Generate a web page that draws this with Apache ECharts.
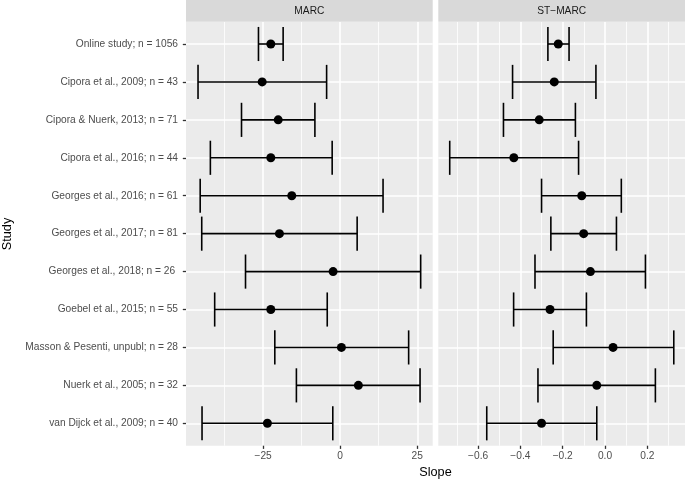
<!DOCTYPE html>
<html><head><meta charset="utf-8">
<script src="https://cdn.jsdelivr.net/npm/echarts@6/dist/echarts.min.js"></script>
<style>html,body{margin:0;padding:0;background:#fff}#c{width:685px;height:479px}</style>
</head><body><div id="c"></div>
<script>
const studies = [
  'Online study; n = 1056',
  'Cipora et al., 2009; n = 43',
  'Cipora & Nuerk, 2013; n = 71',
  'Cipora et al., 2016; n = 44',
  'Georges et al., 2016; n = 61',
  'Georges et al., 2017; n = 81',
  'Georges et al., 2018; n = 26 ',
  'Goebel et al., 2015; n = 55',
  'Masson & Pesenti, unpubl; n = 28',
  'Nuerk et al., 2005; n = 32',
  'van Dijck et al., 2009; n = 40'
];
const marcEst  = [-22.5, -25.3, -20.1, -22.5, -15.7, -19.7, -2.3, -22.5, 0.4, 5.9, -23.6];
const marcLow  = [-26.5, -46.1, -32.0, -42.1, -45.4, -44.9, -30.7, -40.7, -21.2, -14.2, -44.8];
const marcHigh = [-18.5, -4.4, -8.2, -2.6, 13.9, 5.5, 26.1, -4.2, 22.2, 25.9, -2.4];
const stEst  = [-0.221, -0.240, -0.311, -0.431, -0.110, -0.101, -0.069, -0.260, 0.038, -0.039, -0.300];
const stLow  = [-0.270, -0.437, -0.480, -0.734, -0.300, -0.256, -0.331, -0.432, -0.245, -0.317, -0.559];
const stHigh = [-0.170, -0.043, -0.140, -0.125, 0.077, 0.054, 0.191, -0.088, 0.325, 0.238, -0.039];
const marcTicks = [-25, 0, 25];
const stTicks = [-0.6, -0.4, -0.2, 0, 0.2];
const panelTitles = ['MARC', 'ST\u2212MARC'];
const xTitle = 'Slope';
const yTitle = 'Study';

const FONT = '"Liberation Sans", Arial, Helvetica, sans-serif';
const minus = s => s.replace('-', '\u2212');

const PW = 246.7;
const panels = [{left: 186}, {left: 438.3}];
const panelTop = 22, panelBottom = 479 - 445.7, panelH = 445.7 - 22;
const rowTop = 44, rowBottom = 479 - 423.3;

function renderErr(params, api) {
  const i = api.value(2);
  const lo = api.coord([api.value(0), i]);
  const hi = api.coord([api.value(1), i]);
  const h = api.size([0, 1])[1] * 0.45;
  const st = {stroke: '#000', lineWidth: 1.6, fill: null};
  return {type: 'group', children: [
    {type: 'line', shape: {x1: lo[0], y1: lo[1], x2: hi[0], y2: hi[1]}, style: st},
    {type: 'line', shape: {x1: lo[0], y1: lo[1] - h, x2: lo[0], y2: lo[1] + h}, style: st},
    {type: 'line', shape: {x1: hi[0], y1: hi[1] - h, x2: hi[0], y2: hi[1] + h}, style: st}
  ]};
}

const labelStyle = {color: '#4D4D4D', fontSize: 10.2, fontFamily: FONT};
const tickStyle = {color: '#333333', width: 1.3};
const major = {color: '#FFFFFF', width: 1.6};
const minor = {color: '#FFFFFF', width: 0.8};

function bgX(grid, min, max, interval, ticks, fmt) {
  const ax = {
    gridIndex: grid, type: 'value', min: min, max: max,
    axisLine: {show: false, onZero: false},
    axisTick: {show: true, customValues: ticks, length: 3.2, lineStyle: tickStyle},
    axisLabel: Object.assign({customValues: ticks, formatter: fmt, margin: 5}, labelStyle),
    splitLine: {show: true, lineStyle: major},
    minorTick: {show: false, splitNumber: 2},
    minorSplitLine: {show: true, lineStyle: minor}
  };
  if (interval != null) ax.interval = interval;
  return ax;
}

const option = {
  animation: false,
  backgroundColor: '#FFFFFF',
  grid: [
    {left: panels[0].left, top: panelTop, width: PW, bottom: panelBottom, show: false},
    {left: panels[0].left, top: rowTop, width: PW, bottom: rowBottom, show: false},
    {left: panels[1].left, top: panelTop, width: PW, bottom: panelBottom, show: false},
    {left: panels[1].left, top: rowTop, width: PW, bottom: rowBottom, show: false}
  ],
  xAxis: [
    bgX(0, -50, 30, 25, marcTicks, v => minus(String(v))),
    {gridIndex: 1, type: 'value', min: -50, max: 30, show: false, axisLine: {onZero: false}},
    bgX(2, -0.788, 0.378, null, stTicks, v => minus(Number(v).toFixed(1))),
    {gridIndex: 3, type: 'value', min: -0.788, max: 0.378, show: false, axisLine: {onZero: false}}
  ],
  yAxis: [
    {gridIndex: 0, type: 'value', min: 0, max: 1, show: false, axisLine: {onZero: false}},
    {gridIndex: 1, type: 'category', data: studies, inverse: true, boundaryGap: false,
     axisLine: {show: false, onZero: false},
     axisTick: {show: true, interval: 0, length: 3.2, lineStyle: tickStyle},
     axisLabel: Object.assign({interval: 0, margin: 8}, labelStyle),
     splitLine: {show: true, interval: 0, lineStyle: major}},
    {gridIndex: 2, type: 'value', min: 0, max: 1, show: false, axisLine: {onZero: false}},
    {gridIndex: 3, type: 'category', data: studies, inverse: true, boundaryGap: false,
     axisLine: {show: false, onZero: false}, axisTick: {show: false}, axisLabel: {show: false},
     splitLine: {show: true, interval: 0, lineStyle: major}}
  ],
  series: [
    {type: 'custom', xAxisIndex: 1, yAxisIndex: 1, renderItem: renderErr,
     encode: {x: [0, 1], y: 2}, data: studies.map((s, i) => [marcLow[i], marcHigh[i], i]), z: 3},
    {type: 'scatter', xAxisIndex: 1, yAxisIndex: 1, symbolSize: 9, itemStyle: {color: '#000', opacity: 1},
     data: studies.map((s, i) => [marcEst[i], i]), z: 4},
    {type: 'custom', xAxisIndex: 3, yAxisIndex: 3, renderItem: renderErr,
     encode: {x: [0, 1], y: 2}, data: studies.map((s, i) => [stLow[i], stHigh[i], i]), z: 3},
    {type: 'scatter', xAxisIndex: 3, yAxisIndex: 3, symbolSize: 9, itemStyle: {color: '#000', opacity: 1},
     data: studies.map((s, i) => [stEst[i], i]), z: 4}
  ],
  graphic: [
    {type: 'rect', z: -100, silent: true, shape: {x: panels[0].left, y: panelTop, width: PW, height: panelH}, style: {fill: '#EBEBEB'}},
    {type: 'rect', z: -100, silent: true, shape: {x: panels[1].left, y: panelTop, width: PW, height: panelH}, style: {fill: '#EBEBEB'}},
    {type: 'rect', shape: {x: panels[0].left, y: 0, width: PW, height: 21.7}, style: {fill: '#D9D9D9'}},
    {type: 'rect', shape: {x: panels[1].left, y: 0, width: PW, height: 21.7}, style: {fill: '#D9D9D9'}},
    {type: 'text', x: panels[0].left + PW / 2, y: 11, style: {text: panelTitles[0], fill: '#1A1A1A', fontSize: 10.2, fontFamily: FONT, align: 'center', verticalAlign: 'middle'}},
    {type: 'text', x: panels[1].left + PW / 2, y: 11, style: {text: panelTitles[1], fill: '#1A1A1A', fontSize: 10.2, fontFamily: FONT, align: 'center', verticalAlign: 'middle'}},
    {type: 'text', x: 435.5, y: 472, style: {text: xTitle, fill: '#000', fontSize: 12.7, fontFamily: FONT, align: 'center', verticalAlign: 'middle'}},
    {type: 'text', x: 7, y: 234, rotation: Math.PI / 2, style: {text: yTitle, fill: '#000', fontSize: 12.7, fontFamily: FONT, align: 'center', verticalAlign: 'middle'}}
  ]
};
const chart = echarts.init(document.getElementById('c'));
chart.setOption(option);
</script>
</body></html>
